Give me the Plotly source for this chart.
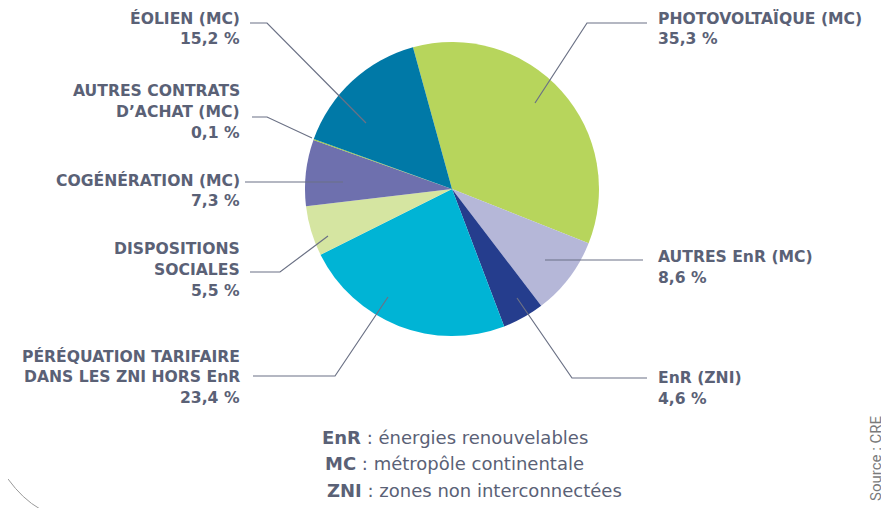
import plotly.graph_objects as go

# page body has an 8px margin: size the figure to fit and map reference pixels accordingly
OFF = 8
W, H = 889 - OFF, 508 - OFF

# ---- data ----
labels = [
    "PHOTOVOLTAÏQUE (MC)",
    "AUTRES EnR (MC)",
    "EnR (ZNI)",
    "PÉRÉQUATION TARIFAIRE\nDANS LES ZNI HORS EnR",
    "DISPOSITIONS\nSOCIALES",
    "COGÉNÉRATION (MC)",
    "AUTRES CONTRATS\nD’ACHAT (MC)",
    "ÉOLIEN (MC)",
]
values = [35.3, 8.6, 4.6, 23.4, 5.5, 7.3, 0.1, 15.2]
colors = ["#b7d55c", "#b5b7d8", "#253d8d", "#00b4d5", "#d5e5a1", "#6e70ae", "#9cc93c", "#0079a7"]

glossary_abbr = ["EnR", "MC", "ZNI"]
glossary_text = ["énergies renouvelables", "métropôle continentale", "zones non interconnectées"]
source_text = "Source : CRE"

# ---- layout helpers (reference pixel -> paper) ----
def px(x):
    return (x - OFF) / W

def py(y):
    return 1 - (y - OFF) / H

# label placement: (anchor side, text x, first line y), leader line points
label_pos = [
    ("left", 656, 18, [(647, 23), (587, 23), (535, 103)]),
    ("left", 656, 257, [(643, 260), (545, 260)]),
    ("left", 656, 378, [(647, 378), (572, 378), (517, 298)]),
    ("right", 242, 356, [(253, 376), (335, 376), (388, 297)]),
    ("right", 242, 249, [(250, 272), (280, 272), (328, 236)]),
    ("right", 242, 180, [(245, 182), (343, 182)]),
    ("right", 242, 91, [(252, 117), (267, 117), (312, 138)]),
    ("right", 242, 18, [(250, 23), (267, 23), (366, 123)]),
]
LINE_H = 21
TEXT_COLOR = "#5a6176"
FONT = "DejaVu Sans"

cx, cy, r = 452, 189, 147

fig = go.Figure(
    go.Pie(
        labels=[l.replace("\n", " ") for l in labels],
        values=values,
        sort=False,
        direction="clockwise",
        rotation=-15.4,
        marker=dict(colors=colors, line=dict(width=0)),
        textinfo="none",
        hoverinfo="label+percent",
        showlegend=False,
        domain=dict(x=[px(cx - r), px(cx + r)], y=[py(cy + r), py(cy - r)]),
    )
)

annotations = []
shapes = []
for lab, val, (side, tx, ty, pts) in zip(labels, values, label_pos):
    lines = lab.split("\n") + [f"{val:.1f}".replace(".", ",") + " %"]
    for i, ln in enumerate(lines):
        annotations.append(dict(
            x=px(tx), y=py(ty + i * LINE_H), xref="paper", yref="paper",
            text=f"<b>{ln}</b>", showarrow=False,
            xanchor="right" if side == "right" else "left", yanchor="middle",
            font=dict(family=FONT, size=15.6, color=TEXT_COLOR),
        ))
    path = "M " + " L ".join(f"{px(x)},{py(y)}" for x, y in pts)
    shapes.append(dict(type="path", path=path, xref="paper", yref="paper",
                       line=dict(color="#6b7185", width=1.2)))

gy = [437, 463, 490]
gx = [320, 323, 325]
for a, t, x, y in zip(glossary_abbr, glossary_text, gx, gy):
    annotations.append(dict(
        x=px(x), y=py(y), xref="paper", yref="paper",
        text=f"<b>{a}</b> : {t}", showarrow=False,
        xanchor="left", yanchor="middle",
        font=dict(family="DejaVu Sans", size=18, color=TEXT_COLOR),
    ))

annotations.append(dict(
    x=px(876), y=py(458), xref="paper", yref="paper",
    text=source_text, showarrow=False, textangle=-90,
    xanchor="center", yanchor="middle",
    font=dict(family="Roboto", size=15, color="#7a7a7a"),
))

# decorative arc bottom-left
shapes.append(dict(type="path", xref="paper", yref="paper",
                   path=f"M {px(8)},{py(479)} Q {px(22.5)},{py(499)} {px(40)},{py(509)}",
                   line=dict(color="#9a9a9a", width=1)))

fig.update_layout(
    width=W, height=H,
    margin=dict(l=0, r=0, t=0, b=0),
    paper_bgcolor="white", plot_bgcolor="white",
    annotations=annotations, shapes=shapes,
)

fig.write_html("out.html")
